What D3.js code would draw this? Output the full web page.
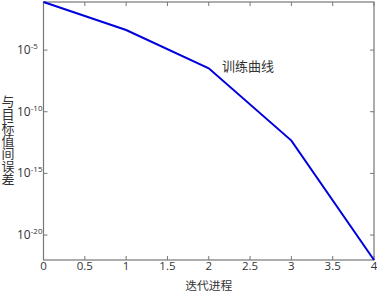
<!DOCTYPE html>
<html>
<head>
<meta charset="utf-8">
<script src="https://cdn.jsdelivr.net/npm/d3@7"></script>
<style>
body { margin: 0; background: #fff; }
text { font-family: "Noto Sans CJK SC", "DejaVu Sans", sans-serif; fill: #333; }
</style>
</head>
<body>
<div id="chart"></div>
<script>
// iterations and error values
var iters = [0, 1, 2, 3, 4];
var errors = [7.9e-2, 4.2e-4, 3.3e-7, 4.6e-13, 9.5e-23];
var xTicks = [0, 0.5, 1, 1.5, 2, 2.5, 3, 3.5, 4];
var xTickLabels = ["0", "0.5", "1", "1.5", "2", "2.5", "3", "3.5", "4"];
var yTicks = [1e-5, 1e-10, 1e-15, 1e-20];
var yTickExps = ["-5", "-10", "-15", "-20"];
var xTitle = "迭代进程";
var yTitle = "与目标值间误差";
var curveLabel = "训练曲线";

var W = 377, H = 293;
var margin = {top: 2, right: 3, bottom: 33, left: 43.5},
    width = W - margin.left - margin.right,
    height = H - margin.top - margin.bottom;

var svg = d3.select("#chart").append("svg")
	.attr("width", W)
	.attr("height", H);

var g = svg.append("g")
	.attr("transform", "translate(" + margin.left + "," + margin.top + ")");

var x = d3.scaleLinear().domain([0, 4]).range([0, width]);
var y = d3.scaleLog().domain(d3.extent(errors)).range([height, 0]);

var axisColor = "#777";
var tickLen = 4;

// frame
g.append("rect")
	.attr("x", 0).attr("y", 0)
	.attr("width", width).attr("height", height)
	.attr("fill", "none")
	.attr("stroke", axisColor)
	.attr("stroke-width", 1.2);

// ticks on all sides, pointing inward
xTicks.forEach(function(t) {
	g.append("line")
		.attr("x1", x(t)).attr("x2", x(t))
		.attr("y1", height).attr("y2", height - tickLen)
		.attr("stroke", axisColor);
	g.append("line")
		.attr("x1", x(t)).attr("x2", x(t))
		.attr("y1", 0).attr("y2", tickLen)
		.attr("stroke", axisColor);
});
yTicks.forEach(function(t) {
	g.append("line")
		.attr("x1", 0).attr("x2", tickLen)
		.attr("y1", y(t)).attr("y2", y(t))
		.attr("stroke", axisColor);
	g.append("line")
		.attr("x1", width).attr("x2", width - tickLen)
		.attr("y1", y(t)).attr("y2", y(t))
		.attr("stroke", axisColor);
});

// x tick labels
g.selectAll(".xlab")
	.data(xTicks)
	.enter().append("text")
	.attr("class", "xlab")
	.attr("x", function(d) { return x(d); })
	.attr("y", height + 10.3)
	.attr("text-anchor", "middle")
	.style("font-family", "'Open Sans', sans-serif")
	.style("font-size", "11.5px")
	.text(function(d, i) { return xTickLabels[i]; });

// y tick labels: 10 with superscript exponent
var ylab = svg.selectAll(".ylab")
	.data(yTicks)
	.enter().append("text")
	.attr("class", "ylab")
	.attr("x", 17)
	.attr("y", function(d) { return margin.top + y(d) + 4; })
	.style("font-family", "'Open Sans', sans-serif")
	.style("font-size", "12px");
ylab.append("tspan").text("10");
ylab.append("tspan")
	.attr("dy", -5)
	.style("font-size", "8px")
	.text(function(d, i) { return yTickExps[i]; });

// the curve
var line = d3.line()
	.x(function(d, i) { return x(iters[i]); })
	.y(function(d) { return y(d); });

g.append("path")
	.datum(errors)
	.attr("fill", "none")
	.attr("stroke", "#0000dd")
	.attr("stroke-width", 2)
	.attr("d", line);

// curve label
g.append("text")
	.attr("x", x(2.16))
	.attr("y", y(2e-7))
	.style("font-size", "13px")
	.text(curveLabel);

// axis titles
svg.append("text")
	.attr("x", margin.left + width / 2)
	.attr("y", 289.5)
	.attr("text-anchor", "middle")
	.style("font-size", "11.8px")
	.text(xTitle);

// vertical title, one character under the other
svg.append("text")
	.attr("x", 8)
	.attr("y", 95)
	.style("font-size", "13px")
	.style("writing-mode", "vertical-rl")
	.style("text-orientation", "upright")
	.text(yTitle);
</script>
</body>
</html>
